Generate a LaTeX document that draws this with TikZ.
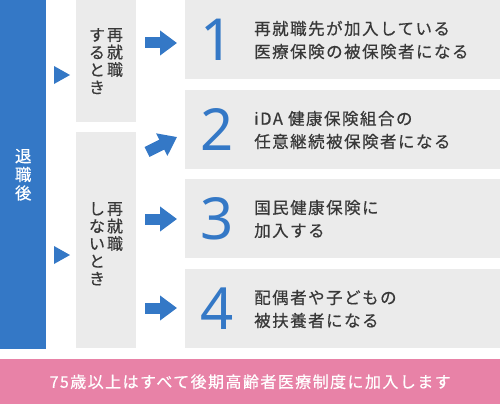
\documentclass[tikz,border=0pt]{standalone}
\usepackage{fontspec}
\setmainfont{Noto Sans CJK JP}
\newfontfamily\jpfont[LetterSpace=9, FakeBold=0.5]{Noto Sans CJK JP}
\newfontfamily\numfont{Noto Sans}
\usepackage{tikz}
\usetikzlibrary{arrows.meta, positioning}

\definecolor{idablue}{HTML}{3478C6}
\definecolor{boxgray}{HTML}{EBEBEB}
\definecolor{barpink}{HTML}{E882A7}
\definecolor{txtgray}{HTML}{383838}

\begin{document}
\begin{tikzpicture}[x=1pt, y=-1pt,
      gbox/.style={fill=boxgray, inner sep=0pt, anchor=north west},
      vtxt/.style={anchor=north, inner sep=0pt, align=center, text=txtgray,
                   font=\jpfont\fontsize{16}{17.5}\selectfont},
      numlbl/.style={inner sep=0pt, text=idablue, font=\numfont\fontsize{58}{58}\selectfont},
      lbl/.style={anchor=west, inner sep=0pt, align=left, text=txtgray,
                  font=\jpfont\fontsize{16.5}{23}\selectfont},
      barrow/.style={draw=idablue, line width=11pt, -{Triangle[length=17pt, width=24pt]}}]

    \useasboundingbox (0,0) rectangle (500,404);

    % left column: after retirement
    \node[fill=idablue, minimum width=46pt, minimum height=349pt, inner sep=0pt,
          anchor=north west, text=white, align=center,
          font=\jpfont\fontsize{16.5}{18.5}\selectfont] (after) at (0,0) {退\\職\\後};

    % small pointers into the two cases
    \fill[idablue] (54,66) -- (70,75) -- (54,84) -- cycle;
    \fill[idablue] (54,246) -- (70,255) -- (54,264) -- cycle;

    % the two cases, written top to bottom
    \node[gbox, minimum width=60pt, minimum height=122pt] (work) at (76,0) {};
    \node[vtxt] (work1) at (115,28) {再\\就\\職};
    \node[vtxt] (work2) at (97,28) {す\\る\\と\\き};

    \node[gbox, minimum width=60pt, minimum height=216pt] (nowork) at (76,132) {};
    \node[vtxt] (nowork1) at (115,202) {再\\就\\職};
    \node[vtxt] (nowork2) at (97,202) {し\\な\\い\\と\\き};

    % the four outcomes
    \node[gbox, minimum width=315pt, minimum height=79pt] (opt1) at (185,0) {};
    \node[gbox, minimum width=315pt, minimum height=79pt] (opt2) at (185,90) {};
    \node[gbox, minimum width=315pt, minimum height=79pt] (opt3) at (185,179) {};
    \node[gbox, minimum width=315pt, minimum height=79pt] (opt4) at (185,269) {};

    \node[numlbl] (n1) at (217,40) {1};
    \node[numlbl] (n2) at (217,130) {2};
    \node[numlbl] (n3) at (217,219) {3};
    \node[numlbl] (n4) at (217,309) {4};

    \node[lbl] (t1) at (254,40) {再就職先が加入している\\医療保険の被保険者になる};
    \node[lbl] (t2) at (254,130) {iDA 健康保険組合の\\任意継続被保険者になる};
    \node[lbl] (t3) at (254,219) {国民健康保険に\\加入する};
    \node[lbl] (t4) at (254,309) {配偶者や子どもの\\被扶養者になる};

    % block arrows between the cases and the outcomes
    \coordinate (a1s) at (145,43);  \coordinate (a1e) at (177,43);
    \coordinate (a2s) at (147,152); \coordinate (a2e) at (177,137);
    \coordinate (a3s) at (145,219); \coordinate (a3e) at (177,219);
    \coordinate (a4s) at (145,308); \coordinate (a4e) at (177,308);
    \draw[barrow] (a1s) -- (a1e);
    \draw[barrow] (a2s) -- (a2e);
    \draw[barrow] (a3s) -- (a3e);
    \draw[barrow] (a4s) -- (a4e);

    % note bar
    \node[fill=barpink, minimum width=500pt, minimum height=45pt, inner sep=0pt,
          anchor=north west, text=white,
          font=\jpfont\fontsize{16}{18}\selectfont] (note) at (0,359)
      {75歳以上はすべて後期高齢者医療制度に加入します};

    \end{tikzpicture}
\end{document}
